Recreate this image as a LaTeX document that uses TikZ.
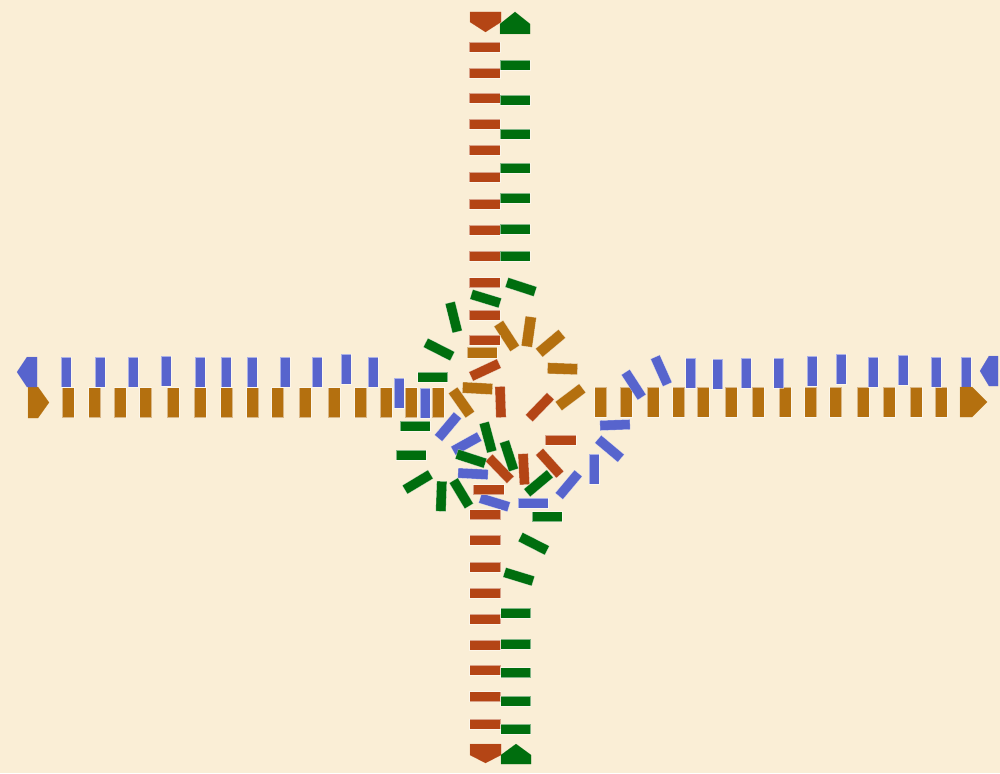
\documentclass[tikz,border=0pt]{standalone}
\usepackage{tikz}
\usepackage{xcolor}

\definecolor{sand}{HTML}{FAEED6}
\definecolor{amber}{HTML}{B4700F}
\definecolor{rust}{HTML}{B44515}
\definecolor{slate}{HTML}{5764CD}
\definecolor{leaf}{HTML}{006E0E}

\begin{document}
\begin{tikzpicture}[x=1pt, y=-1pt, every node/.style={rectangle, inner sep=0pt, minimum width=30pt, minimum height=10pt, draw=white, draw opacity=0.5, line width=0.4pt}]
    % Background and frame
    \fill[sand] (0,0) rectangle (1000,773);
    \useasboundingbox (0,0) rectangle (1000,773);

    % Eastbound cars (amber), straight parts
    \foreach \x [count=\i] in {68,94.5,120,145.5,173,200,226.5,252.5,277.5,305,334,360.5,386,411,438}
        \node[fill=amber, minimum height=12pt, rotate=90] (ew\i) at (\x,402.5) {};
    \foreach \x [count=\i] in {600.5,626,653,678.5,703,731,758,785,810.5,835.5,863,889,916,941}
        \node[fill=amber, minimum height=12pt, rotate=90] (ee\i) at (\x,402) {};
    % Eastbound cars in the roundabout
    \foreach \x/\y/\a [count=\i] in {461.5/402.5/-55, 477.5/388.3/-3, 482/352.3/0, 506.7/336/-57,
            528.8/331.7/82, 550.5/343.3/40, 562.5/368.7/-2, 570.5/397.2/37}
        \node[fill=amber, minimum height=11pt, rotate=\a] (er\i) at (\x,\y) {};

    % Westbound cars (slate)
    \foreach \x/\y [count=\i] in {966/372,936/372,903/370,873/372,841/369,812/371,778.5/373,746/373,717.5/374,690.5/373}
        \node[fill=slate, rotate=90] (we\i) at (\x,\y) {};
    \foreach \x/\y/\a [count=\i] in {661.3/370.7/-66, 633.7/384.7/-57, 615/425/2, 609.5/448.7/-40,
            593.7/468.7/90, 568.7/484.7/50, 533/503/0, 494.5/502.5/-17, 473/473.8/-3,
            466.3/443.7/29, 448/426.7/50, 425/402.8/90, 399/393/90}
        \node[fill=slate, rotate=\a] (wr\i) at (\x,\y) {};
    \foreach \x/\y [count=\i] in {373/372,346/369,317/372,285/372,252/372,226/372,200/372,166/371,133/372,100/372,66/372}
        \node[fill=slate, rotate=90] (ww\i) at (\x,\y) {};

    % Southbound cars (rust)
    \foreach \y [count=\i] in {47,73,98,124,150,177,204,230,256,282.5,314.7,340.3}
        \node[fill=rust, minimum width=31pt] (sn\i) at (484.5,\y) {};
    \foreach \x/\y/\a [count=\i] in {485/370/25, 500.5/402/92, 539.8/407.2/46, 560.5/440.2/0,
            549.7/463.2/-48, 523.8/469.2/-87, 499.7/468.8/-46, 488.8/489.5/0}
        \node[fill=rust, minimum width=31pt, rotate=\a] (sr\i) at (\x,\y) {};
    \foreach \y [count=\i] in {514.5,540,567,593,619,645,670,696.5,724}
        \node[fill=rust, minimum width=31pt] (ss\i) at (485,\y) {};

    % Northbound cars (leaf)
    \foreach \y [count=\i] in {613,644,672.5,701,729}
        \node[fill=leaf] (ns\i) at (515.5,\y) {};
    \foreach \x/\y/\a [count=\i] in {518.8/576.7/-17, 533.7/543.7/-27, 547/516.5/0, 538.5/483.3/40,
            461.3/493.3/-59, 441.3/496.3/88, 417.7/482/31, 509/455.8/-72, 471/458.7/-18,
            411/455.3/0, 488/437.2/-75, 415.3/425.8/0, 432.5/377.3/0, 439/349.5/-27,
            453.7/317.2/-76, 485.7/298.7/-17, 521/287/-18}
        \node[fill=leaf, rotate=\a] (nr\i) at (\x,\y) {};
    \foreach \y [count=\i] in {256,229,198,168,134,100,65}
        \node[fill=leaf] (nn\i) at (515,\y) {};

    % Road ends
    \begin{scope}[draw=white, draw opacity=0.5, line width=0.4pt]
        \filldraw[amber] (28,387) -- (38,387) -- (49,402.5) -- (38,418) -- (28,418) -- cycle;
        \filldraw[amber] (960,387) -- (972,387) -- (987,402) -- (972,417) -- (960,417) -- cycle;
        \filldraw[slate] (37,357) -- (27,357) -- (17,372) -- (27,387) -- (37,387) -- cycle;
        \filldraw[slate] (998,356) -- (989,356) -- (980,371) -- (989,386) -- (998,386) -- cycle;
        \filldraw[rust] (470,12) -- (501,12) -- (501,22) -- (485.5,32) -- (470,22) -- cycle;
        \filldraw[rust] (470,744) -- (501,744) -- (501,755) -- (485.5,763) -- (470,755) -- cycle;
        \filldraw[leaf] (500,34) -- (530,34) -- (530,24) -- (515,12) -- (500,24) -- cycle;
        \filldraw[leaf] (501,764) -- (531,764) -- (531,755) -- (516,744) -- (501,755) -- cycle;
    \end{scope}
\end{tikzpicture}
\end{document}
